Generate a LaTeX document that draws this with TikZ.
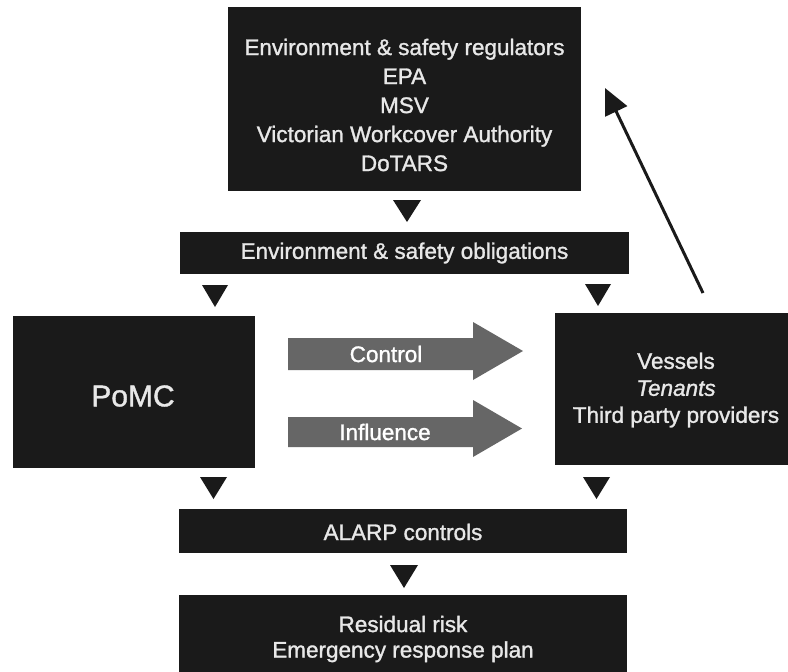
\documentclass[tikz,border=0pt]{standalone}
\usepackage{fontspec}
\setmainfont{Liberation Sans}
\newfontfamily\heavyfont{Liberation Sans}[FakeBold=1.3]
\usetikzlibrary{arrows.meta}
\definecolor{boxblack}{HTML}{1A1A1A}
\definecolor{boxtext}{HTML}{E8E8E8}
\definecolor{arrowgray}{HTML}{666666}
\tikzset{
  darkbox/.style={fill=boxblack, draw=none, inner sep=0pt},
  boxlabel/.style={text=boxtext, align=center, inner sep=0pt, font=\heavyfont\fontsize{22.5}{29}\selectfont},
  pointer/.style={fill=boxblack, draw=none},
  blockarrow/.style={fill=arrowgray, draw=none},
  arrowlabel/.style={text=white, inner sep=0pt, font=\heavyfont\fontsize{22.5}{27}\selectfont},
}
\begin{document}
\begin{tikzpicture}[x=1pt, y=-1pt]
\useasboundingbox (0,0) rectangle (788,672);
\fill[white] (0,0) rectangle (788,672);

% top regulators box
\node[darkbox, minimum width=353pt, minimum height=184pt] (reg) at (404.5,99) {};
\node[boxlabel] (regtxt) at (404.5,105) {Environment \& safety regulators\\EPA\\MSV\\Victorian Workcover Authority\\DoTARS};

% obligations bar
\node[darkbox, minimum width=449pt, minimum height=42pt] (obl) at (404.5,253) {};
\node[boxlabel] (obltxt) at (404.5,253) {Environment \& safety obligations};

% PoMC
\node[darkbox, minimum width=242pt, minimum height=152pt] (pomc) at (134,392) {};
\node[boxlabel, font=\heavyfont\fontsize{30}{34}\selectfont] (pomctxt) at (133,396) {PoMC};

% vessels box
\node[darkbox, minimum width=233pt, minimum height=152pt] (ves) at (671.5,389) {};
\node[boxlabel, font=\heavyfont\fontsize{22.5}{27}\selectfont] (vestxt) at (676,390) {Vessels\\\textit{Tenants}\\Third party providers};

% ALARP bar
\node[darkbox, minimum width=448pt, minimum height=44pt] (alarp) at (403,531) {};
\node[boxlabel] (alarptxt) at (403,532) {ALARP controls};

% residual box
\node[darkbox, minimum width=448pt, minimum height=77pt] (res) at (403,633.5) {};
\node[boxlabel, font=\heavyfont\fontsize{22.5}{25.5}\selectfont] (restxt) at (403,639) {Residual risk\\Emergency response plan};

% small triangular pointers
\fill[pointer] (393,200) -- (421,200) -- (407,222) -- cycle;
\fill[pointer] (202,285) -- (228,285) -- (215,307) -- cycle;
\fill[pointer] (585,284) -- (611,284) -- (598,306) -- cycle;
\fill[pointer] (200,477) -- (227,477) -- (213.5,499) -- cycle;
\fill[pointer] (583,477) -- (610,477) -- (596.5,499) -- cycle;
\fill[pointer] (390,565) -- (418,565) -- (404,588) -- cycle;

% block arrows
\fill[blockarrow] (288,338) -- (473,338) -- (473,322) -- (523,351) -- (473,380) -- (473,370) -- (288,370) -- cycle;
\node[arrowlabel] (ctrl) at (386,354) {Control};
\fill[blockarrow] (288,417) -- (473,417) -- (473,400) -- (522,428.5) -- (473,457) -- (473,447) -- (288,447) -- cycle;
\node[arrowlabel] (infl) at (385,432) {Influence};

% feedback arrow
\coordinate (fbstart) at (703,293);
\coordinate (fbend) at (605,88);
\draw[line width=3pt, draw=boxblack, -{Triangle[length=26pt,width=24pt]}] (fbstart) -- (fbend);
\end{tikzpicture}
\end{document}
